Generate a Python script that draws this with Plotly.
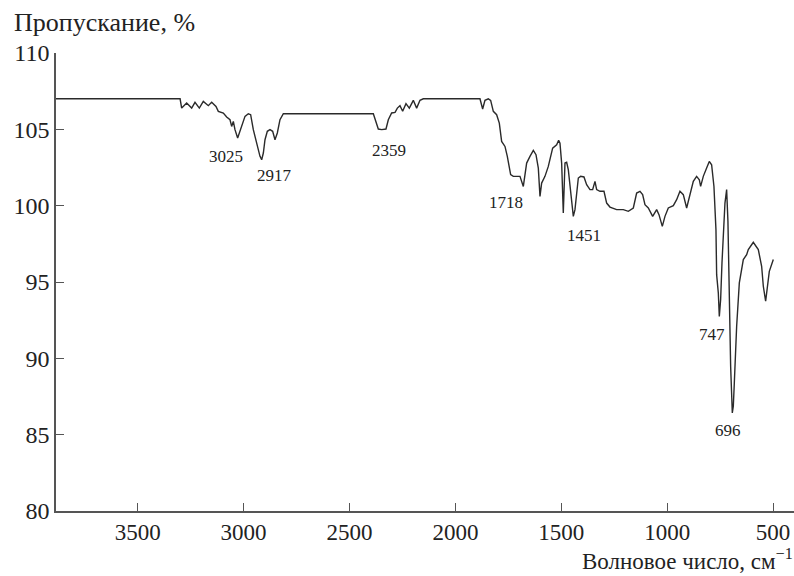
import plotly.graph_objects as go

# Wavenumber (cm^-1) and transmittance (%)
wavenumber = [3886, 3300, 3292.6, 3269, 3245.4, 3229.6, 3209.2, 3190.3, 3166.7, 3150.9,
              3130.5, 3119.5, 3095.8, 3080.1, 3064.4, 3056.5, 3048.6, 3040.8, 3028.2, 3017.1,
              3004.6, 2993.5, 2977.8, 2966.8, 2954.2, 2938.4, 2922.7, 2914.8, 2906.9, 2899.1,
              2888.1, 2875.5, 2862.9, 2851.9, 2840.9, 2828.3, 2812.5, 2387.5, 2375, 2364,
              2348, 2327.7, 2316.7, 2301, 2285, 2274, 2261.6, 2249, 2233.3, 2217.6,
              2198.7, 2183, 2167.2, 2151.4, 1883.9, 1871.3, 1860.3, 1844.5, 1833.5, 1820.9,
              1805.2, 1792.6, 1781.6, 1765.8, 1754.8, 1739.1, 1726.5, 1695, 1679.2, 1663.5,
              1647.8, 1632, 1619.4, 1608.4, 1600.5, 1592.7, 1577, 1561.2, 1540.7, 1521.8,
              1512.4, 1506.1, 1498.2, 1490.4, 1482.5, 1474.6, 1466.8, 1455.7, 1443.1, 1435.3,
              1419.5, 1408.5, 1392.8, 1380.2, 1364.4, 1351.8, 1340.8, 1333, 1317.2, 1298.3,
              1285.7, 1270, 1238.5, 1207, 1183.4, 1159.8, 1144.1, 1128.3, 1115.8, 1104.7,
              1089, 1068.5, 1049.6, 1038.6, 1022.9, 1010.3, 994.6, 970.9, 955.2, 939.5,
              923.7, 908, 892.2, 876.5, 860.8, 848.2, 841.9, 829.3, 813.6, 801,
              790, 779, 769.5, 766.3, 758.4, 753.7, 747.4, 741.1, 727, 719.1,
              713, 709, 706.4, 700.2, 692.3, 687.6, 682.8, 671.8, 659.2, 640.3,
              624.6, 616.8, 593.2, 569.6, 553.8, 545.9, 534.9, 527, 517.6, 498.7]

transmittance = [107.0, 107.0, 106.39, 106.72, 106.39, 106.77, 106.39, 106.83, 106.55, 106.77,
                 106.50, 106.18, 106.07, 105.81, 105.63, 105.19, 105.52, 104.98, 104.43, 104.87,
                 105.30, 105.85, 106.02, 105.96, 104.98, 104.10, 103.23, 103.01, 103.45, 104.32,
                 104.87, 104.98, 104.87, 104.32, 104.76, 105.63, 106.02, 106.02, 105.41, 105.02,
                 104.98, 105.02, 105.63, 106.07, 106.11, 106.39, 106.55, 106.18, 106.68, 106.39,
                 106.90, 106.39, 106.90, 107.0, 107.0, 106.33, 106.90, 107.0, 106.9, 106.18,
                 105.96, 105.41, 104.21, 103.88, 103.23, 102.03, 101.92, 101.92, 101.26, 102.79,
                 103.23, 103.62, 103.34, 102.46, 100.61, 101.48, 101.92, 102.57, 103.77, 103.99,
                 104.28, 104.10, 102.79, 99.52, 102.79, 102.84, 102.36, 101.05, 99.30, 99.74,
                 101.81, 101.92, 101.88, 101.37, 101.05, 101.05, 101.59, 101.05, 100.94, 100.94,
                 100.17, 99.91, 99.74, 99.74, 99.63, 99.85, 100.83, 100.94, 100.72, 100.06,
                 99.85, 99.30, 99.74, 99.41, 98.64, 99.30, 99.85, 100.0, 100.39, 100.94,
                 100.72, 99.85, 100.83, 101.59, 101.92, 101.7, 101.26, 101.92, 102.46, 102.90,
                 102.68, 101.26, 98.43, 95.48, 94.28, 92.75, 93.85, 96.25, 100.17, 101.05,
                 99.0, 96.0, 94.94, 89.48, 86.42, 86.86, 88.39, 92.10, 94.94, 96.47,
                 96.79, 97.12, 97.6, 97.12, 96.03, 94.72, 93.74, 94.72, 95.7, 96.47]

# Peak labels
peak_labels = ["3025", "2917", "2359", "1718", "1451", "747", "696"]
label_x = [3085, 2856, 2313, 1762, 1392, 790, 714]
label_y = [103.19, 101.98, 103.61, 100.18, 98.05, 91.55, 85.28]

x_ticks = [3500, 3000, 2500, 2000, 1500, 1000, 500]
y_ticks = [80, 85, 90, 95, 100, 105, 110]

FONT = "Liberation Serif, Times New Roman, serif"
AXIS_COLOR = "#555555"
TEXT_COLOR = "#222222"

fig = go.Figure()
fig.add_trace(go.Scatter(x=wavenumber, y=transmittance, mode="lines",
                         line=dict(color="#2a2a2a", width=1.4), showlegend=False,
                         hoverinfo="skip"))

for t, lx, ly in zip(peak_labels, label_x, label_y):
    fig.add_annotation(x=lx, y=ly, text=t, showarrow=False,
                       font=dict(family=FONT, size=17, color=TEXT_COLOR),
                       xanchor="center", yanchor="middle")

fig.add_annotation(xref="paper", yref="paper", x=-0.0596, y=1.066,
                   text="Пропускание, %", showarrow=False, xanchor="left",
                   yanchor="middle", font=dict(family=FONT, size=26, color=TEXT_COLOR))
fig.add_annotation(xref="paper", yref="paper", x=1.0, y=0.0, yshift=-63.5,
                   text="Волновое число, см<sup>−1</sup>", showarrow=False,
                   xanchor="right", yanchor="bottom", borderpad=0,
                   font=dict(family=FONT, size=23, color=TEXT_COLOR))

fig.update_layout(
    width=794, height=576,
    margin=dict(l=56, r=0, t=53, b=65),
    plot_bgcolor="white", paper_bgcolor="white",
    xaxis=dict(range=[3886, 401], tickvals=x_ticks, ticks="inside", ticklen=8,
               tickwidth=1.3, tickcolor=AXIS_COLOR, showline=True, linecolor=AXIS_COLOR,
               linewidth=1.5, showgrid=False, zeroline=False,
               tickfont=dict(family=FONT, size=23, color=TEXT_COLOR)),
    yaxis=dict(range=[80, 110], tickvals=y_ticks, ticks="inside", ticklen=8,
               tickwidth=1.3, tickcolor=AXIS_COLOR, showline=True, linecolor=AXIS_COLOR,
               linewidth=1.5, showgrid=False, zeroline=False,
               tickfont=dict(family=FONT, size=24, color=TEXT_COLOR)),
)

fig.write_html("out.html")
